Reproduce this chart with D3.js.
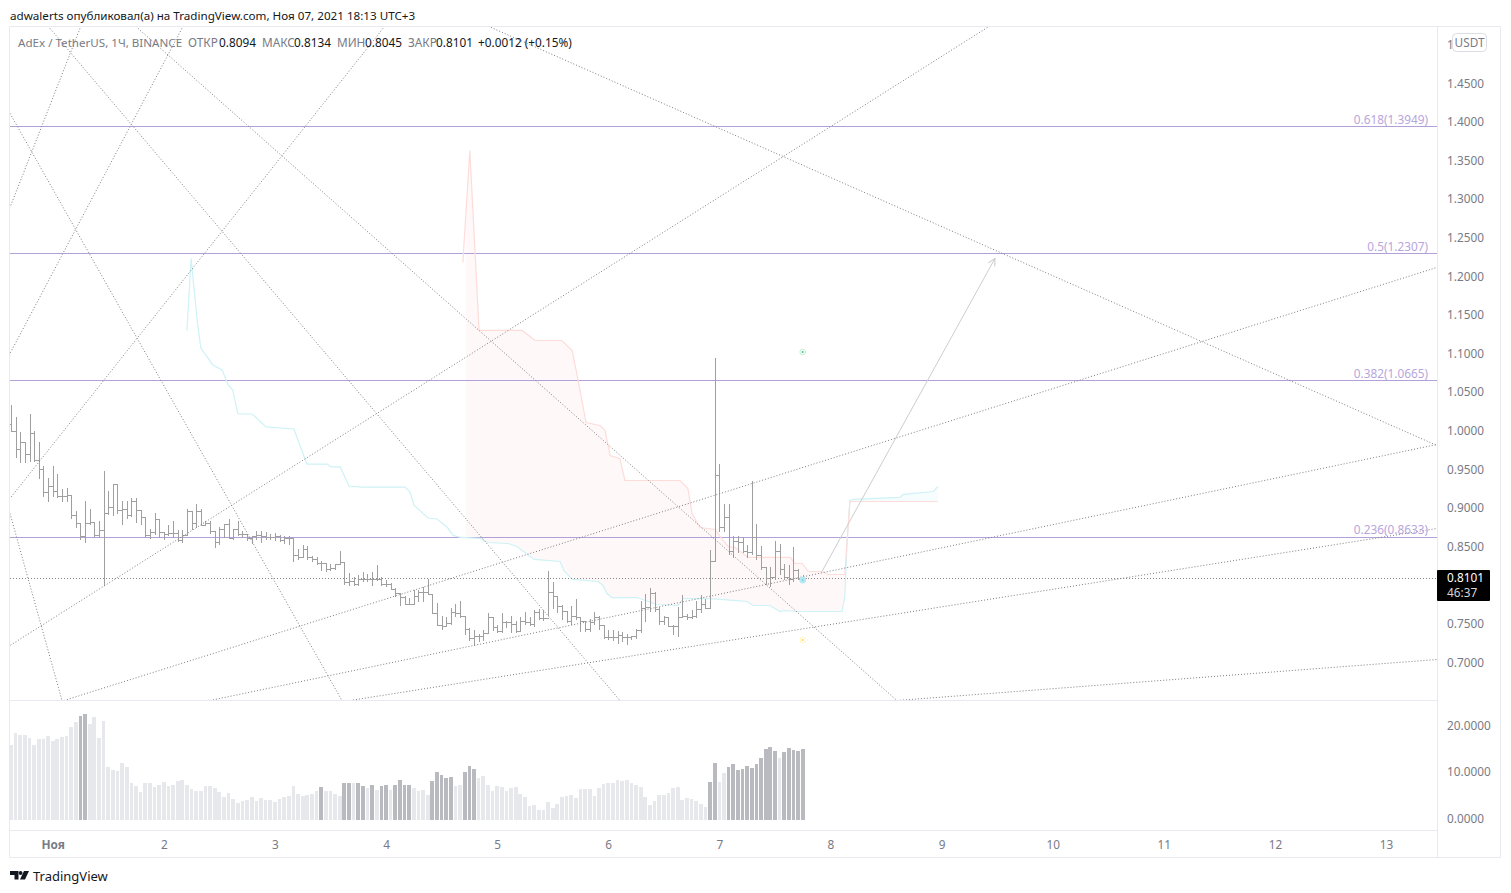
<!DOCTYPE html>
<html><head><meta charset="utf-8">
<script src="https://cdn.jsdelivr.net/npm/d3@7"></script>
<style>
html,body{margin:0;padding:0;background:#fff}
svg{display:block}
text{font-family:"Noto Sans",sans-serif}
</style></head><body><svg id="c" width="1511" height="893"></svg>
<script>
// ---- OHLC (hourly bars, index 0..171) ----
const highs=[1.0348,1.0192,.9998,.9860,1.0227,1.0011,.9868,.9557,.9398,.9557,
.9449,.9255,.9268,.9177,.8975,.8819,.9104,.8997,.8824,.8833,
.9493,.9234,.9320,.9320,.9104,.9096,.9139,.9139,.8984,.8897,
.8738,.8945,.8867,.8694,.8781,.8833,.8725,.8725,.8997,.8975,
.9061,.8997,.8833,.8833,.8707,.8759,.8802,.8867,.8738,.8833,
.8716,.8673,.8651,.8716,.8716,.8694,.8673,.8681,.8664,.8651,
.8651,.8617,.8479,.8522,.8509,.8392,.8371,.8327,.8293,.8284,
.8284,.8457,.8306,.8163,.8112,.8146,.8185,.8155,.8176,.8263,
.8112,.8069,.8034,.7974,.7905,.7874,.7840,.7948,.7939,.7982,
.8082,.7896,.7779,.7615,.7602,.7710,.7766,.7801,.7615,.7455,
.7421,.7377,.7421,.7654,.7602,.7486,.7650,.7550,.7611,.7542,
.7602,.7658,.7594,.7680,.7702,.7680,.8198,.8047,.7874,.7745,
.7658,.7732,.7831,.7594,.7550,.7572,.7658,.7615,.7486,.7421,
.7421,.7412,.7399,.7377,.7356,.7442,.7809,.7896,.7974,.7917,
.7723,.7615,.7602,.7498,.7723,.7882,.7636,.7680,.7809,.7887,
.7831,.8465,1.0952,.9571,.9053,.9053,.8651,.8651,.8630,.8522,
.9351,.8794,.8509,.8241,.8241,.8586,.8535,.8284,.8263,.8500,.8219,.8134];
const lows=[1.0011,.9674,.9601,.9601,.9622,.9622,.9393,.9169,.9095,.9169,
.9156,.9104,.9104,.8880,.8759,.8608,.8565,.8802,.8651,.8630,
.8004,.8932,.8923,.8941,.8794,.8880,.8910,.8824,.8794,.8630,
.8621,.8673,.8630,.8608,.8664,.8630,.8586,.8565,.8673,.8738,
.8759,.8781,.8781,.8681,.8500,.8543,.8630,.8621,.8608,.8664,
.8630,.8595,.8552,.8608,.8565,.8608,.8608,.8595,.8586,.8552,
.8543,.8327,.8349,.8371,.8349,.8327,.8276,.8207,.8198,.8207,
.8220,.8276,.8025,.8016,.8016,.8016,.8068,.8068,.8016,.8077,
.8004,.7991,.7961,.7874,.7745,.7758,.7758,.7758,.7801,.7809,
.7896,.7650,.7486,.7442,.7477,.7499,.7615,.7602,.7378,.7300,
.7239,.7291,.7300,.7386,.7421,.7399,.7399,.7464,.7399,.7399,
.7408,.7507,.7486,.7477,.7572,.7563,.7624,.7715,.7658,.7572,
.7529,.7507,.7572,.7412,.7412,.7412,.7507,.7442,.7326,.7313,
.7304,.7261,.7291,.7248,.7313,.7326,.7399,.7550,.7671,.7671,
.7507,.7507,.7477,.7377,.7356,.7593,.7572,.7585,.7602,.7658,
.7710,.7710,.8319,.8707,.8716,.8414,.8370,.8435,.8435,.8370,
.8414,.8349,.8219,.8025,.8003,.8090,.8155,.8090,.8025,.8060,.8090,.8045];
const closes=[1.0011,.9773,.9860,.9709,.9976,.9635,.9514,.9220,.9294,.9233,
.9160,.9169,.9177,.8919,.8819,.8651,.8811,.8824,.8660,.8729,
.8945,.9018,.9320,.8984,.8997,.8919,.9096,.8984,.8897,.8664,
.8694,.8867,.8694,.8673,.8690,.8690,.8595,.8664,.8966,.8811,
.8966,.8789,.8811,.8707,.8565,.8738,.8802,.8621,.8738,.8673,
.8673,.8617,.8643,.8660,.8647,.8630,.8630,.8651,.8595,.8617,
.8617,.8405,.8379,.8479,.8371,.8349,.8293,.8293,.8220,.8233,
.8276,.8306,.8047,.8068,.8025,.8090,.8090,.8090,.8090,.8090,
.8025,.8017,.7961,.7905,.7853,.7766,.7766,.7874,.7917,.7917,
.7896,.7650,.7494,.7477,.7516,.7658,.7650,.7615,.7442,.7326,
.7356,.7356,.7386,.7594,.7472,.7412,.7529,.7529,.7507,.7408,
.7538,.7529,.7507,.7658,.7585,.7585,.7917,.7874,.7732,.7671,
.7550,.7615,.7594,.7550,.7442,.7529,.7602,.7486,.7335,.7335,
.7343,.7369,.7335,.7335,.7347,.7421,.7714,.7723,.7904,.7701,
.7541,.7602,.7477,.7477,.7602,.7615,.7602,.7615,.7701,.7766,
.7714,.8327,.9437,.8759,.8897,.8457,.8586,.8565,.8457,.8435,
.8630,.8401,.8241,.8103,.8120,.8457,.8219,.8120,.8090,.8206,.8094,.8101];
const opens=[1.0097,1.0011,.9773,.9860,.9709,.9976,.9635,.9514,.9220,.9294,
.9233,.9160,.9169,.9177,.8919,.8819,.8651,.8811,.8824,.8660,
.8729,.8945,.9018,.9320,.8984,.8997,.8919,.9096,.8984,.8897,
.8664,.8694,.8867,.8694,.8673,.8690,.8690,.8595,.8664,.8966,
.8811,.8966,.8789,.8811,.8707,.8565,.8738,.8802,.8621,.8738,
.8673,.8673,.8617,.8643,.8660,.8647,.8630,.8630,.8651,.8595,
.8617,.8617,.8405,.8379,.8479,.8371,.8349,.8293,.8293,.8220,
.8233,.8276,.8306,.8047,.8068,.8025,.8090,.8090,.8090,.8090,
.8090,.8025,.8017,.7961,.7905,.7853,.7766,.7766,.7874,.7917,
.7917,.7896,.7650,.7494,.7477,.7516,.7658,.7650,.7615,.7442,
.7326,.7356,.7356,.7386,.7594,.7472,.7412,.7529,.7529,.7507,
.7408,.7538,.7529,.7507,.7658,.7585,.7585,.7917,.7874,.7732,
.7671,.7550,.7615,.7594,.7550,.7442,.7529,.7602,.7486,.7335,
.7335,.7343,.7369,.7335,.7335,.7347,.7421,.7714,.7723,.7904,
.7701,.7541,.7602,.7477,.7477,.7602,.7615,.7602,.7615,.7701,
.7766,.7714,.8327,.9437,.8759,.8897,.8457,.8586,.8565,.8457,
.8435,.8630,.8401,.8241,.8103,.8120,.8457,.8219,.8120,.8090,.8206,.8094];
// ---- Volume ----
const volumes=[16.2,18.7,18.3,18.3,17.7,16.2,17.5,17.5,18.1,17.1,
17.5,17.9,18.1,20.1,21.2,22.4,22.9,20.7,22.2,17.7,
21.4,11.4,10.8,10.6,12.3,11.4,8.0,7.3,6.0,8.0,
8.0,7.1,7.6,8.2,7.3,7.6,8.4,8.6,7.6,6.7,
6.3,6.3,7.3,7.3,6.9,6.0,5.0,5.8,4.5,3.7,
4.1,4.3,5.0,4.1,4.7,4.3,4.3,3.9,4.5,5.0,
5.2,7.3,5.6,5.2,5.4,5.6,6.3,7.1,6.3,6.3,
5.6,5.2,8.0,8.0,8.0,8.0,7.3,6.9,7.6,6.5,
7.3,7.6,6.5,7.6,8.6,7.6,7.6,6.9,6.3,6.5,
5.4,8.4,10.4,9.7,9.1,9.3,7.3,7.6,10.4,11.7,
11.0,9.1,9.5,7.6,6.3,7.3,7.1,6.3,6.9,7.1,
5.6,5.0,3.0,3.2,2.2,2.2,3.9,2.6,3.5,5.0,
5.2,5.4,4.7,6.7,6.7,6.7,5.2,6.9,7.8,8.0,
8.0,8.6,8.4,8.6,8.0,7.6,7.1,5.0,3.2,4.1,
5.4,5.4,5.8,6.9,7.1,4.3,4.7,4.5,4.1,3.5,
2.8,8.2,12.3,8.2,10.1,11.4,12.1,10.8,11.0,11.7,
11.2,12.1,13.4,15.3,15.8,14.9,13.4,14.7,15.5,15.1,14.9,15.3];
const darkVolumeBars=[15,16,67,72,73,75,76,78,80,81,83,84,85,86,91,92,93,94,95,98,99,100,
151,152,155,156,157,158,159,160,161,162,163,164,165,167,168,169,170,171];
// ---- Cloud lines: bar index and price ----
const blueTimes=[38.0,38.9,40.2,41.0,43.6,45.6,46.9,47.9,49.0,52.1,55.1,61.1,63.9,68.3,69.1,71.1,73.0,75.8,85.1,86.2,87.0,90.1,92.0,94.2,95.5,97.2,101.3,103.0,107.4,109.3,111.0,113.0,118.6,119.4,121.2,126.8,127.9,128.7,129.8,135.2,139.5,144.1,145.2,151.0,156.0,159.0,160.3,163.9,166.1,167.2,169.8,179.5,180.1,180.6,181.2,181.9,192.0,192.7,199.2,200.2];
const blueValues=[1.1307,1.2240,1.1442,1.1080,1.0860,1.0795,1.0601,1.0536,1.0225,1.0225,1.0057,1.0031,.9577,.9577,.9539,.9539,.9292,.9279,.9279,.9215,.9046,.8878,.8865,.8761,.8652,.8626,.8613,.8561,.8548,.8509,.8431,.8341,.8315,.8198,.8082,.8056,.8004,.7900,.7848,.7848,.7758,.7745,.7835,.7835,.7810,.7797,.7745,.7745,.7667,.7680,.7667,.7667,.7861,.8587,.9105,.9118,.9144,.9183,.9221,.9286];
const redTimes=[97.6,99.1,101.1,110.4,113.2,119.0,121.2,122.5,124.2,127.2,128.3,129.4,131.5,132.6,144.5,146.2,147.1,148.8,152.1,153.8,154.9,156.4,159.2,168.3,169.3,170.9,172.2,175.2,176.5,180.1,180.6,181.2,200.2];
const redValues=[1.2188,1.3638,1.1307,1.1307,1.1177,1.1177,1.1048,1.0659,1.0115,1.0076,1.0012,.9688,.9649,.9364,.9364,.9260,.8936,.8755,.8729,.8587,.8509,.8496,.8367,.8367,.8289,.8289,.8185,.8185,.8146,.8146,.8587,.9092,.9092];
const cloudStart=98.27, cloudCross=180.6, cloudStartRed=1.2836, cloudStartBlue=.8623;
// ---- Fibonacci levels ----
const fibPrices=[1.3949,1.2307,1.0665,.8633];
const fibLabels=["0.618(1.3949)","0.5(1.2307)","0.382(1.0665)","0.236(0.8633)"];
const lastPrice=.8101;
// ---- Drawn lines: [bar0, price0, bar1, price1] ----
const fanTimes0=[14.90,36.93,80.35,210.91,103.67,8.42,27.43,-.216,-.216,11.45,42.98,73.22,191.36];
const fanPrices0=[1.5219,1.5219,1.5219,1.5232,1.5232,1.5219,1.5219,1.4118,.8937,.6514,.6514,.6514,.6514];
const fanTimes1=[-.216,-.216,-.216,-.216,307.99,131.53,191.36,71.49,11.02,307.99,307.99,307.99,307.99];
const fanPrices1=[1.2900,1.1009,.9131,.7227,.9817,.6514,.6514,.6514,.6514,1.2123,.9830,.8742,.7045];
const arrowTimes=[175.16,212.53], arrowPrices=[.8185,1.2240];
const markerTime=171, markerPrices=[1.1028,.8075,.7298];
// ---- Ticks ----
const priceTicks=[1.5,1.45,1.4,1.35,1.3,1.25,1.2,1.15,1.1,1.05,1,.95,.9,.85,.75,.7];
const volumeTicks=[0,10,20];
const dayTicks=[9,33,57,81,105,129,153,177,201,225,249,273,297];
const dayLabels=["Ноя","2","3","4","5","6","7","8","9","10","11","12","13"];

const svg=d3.select("#c");
const L=10,R=1437,T=27,B=700,FRAME_R=1500;
const x=d3.scaleLinear().domain([0,171]).range([11,802.7]);
const y=d3.scaleLinear().domain([.7,1.45]).range([663,663-.75*772.1]);
const yv=d3.scaleLinear().domain([0,20]).range([820,727.4]);
const GRID="#e9eaef",TXT="#787b86",BAR="#9f9f9f",DOT="#7d7d7d";

svg.append("defs").append("clipPath").attr("id","plot").append("rect")
  .attr("x",L).attr("y",T).attr("width",R-L).attr("height",B-T);
const defs=svg.select("defs");
defs.append("marker").attr("id","ah").attr("viewBox","-8 -5 10 10").attr("refX",0).attr("refY",0)
  .attr("markerWidth",10).attr("markerHeight",10).attr("markerUnits","userSpaceOnUse").attr("orient","auto")
  .append("path").attr("d","M-7,-3.6L0,0L-7,3.6").attr("fill","none").attr("stroke","#c9c9c9").attr("stroke-width",1);

// frame
const frame=svg.append("g").attr("stroke",GRID).attr("stroke-width",1);
[[L-.5,26.5,FRAME_R+.5,26.5],[L-.5,26.5,L-.5,857.5],[FRAME_R+.5,26.5,FRAME_R+.5,857.5],[L-.5,857.5,FRAME_R+.5,857.5],
 [R+.5,26.5,R+.5,857.5],[L,700.5,R,700.5],[L,830.5,R,830.5]].forEach(s=>
  frame.append("line").attr("x1",s[0]).attr("y1",s[1]).attr("x2",s[2]).attr("y2",s[3]));

const plot=svg.append("g").attr("clip-path","url(#plot)");
const lineGen=d3.line().x(d=>x(d[0])).y(d=>y(d[1]));
const blue=d3.zip(blueTimes,blueValues), red=d3.zip(redTimes,redValues);

// cloud fills
const upper=[[cloudStart,cloudStartRed],...red.filter(d=>d[0]>cloudStart&&d[0]<=cloudCross)];
const lower=[[cloudStart,cloudStartBlue],...blue.filter(d=>d[0]>cloudStart&&d[0]<=cloudCross)];
plot.append("path").attr("d",lineGen([...upper,...lower.reverse()])+"Z").attr("fill","#fff8f8");
const upperB=blue.filter(d=>d[0]>=181.2), lowerB=red.filter(d=>d[0]>=181.2);
plot.append("path").attr("d",lineGen([...upperB,...lowerB.reverse()])+"Z").attr("fill","#f7fdfe");

// fib lines
plot.selectAll("line.fib").data(fibPrices).join("line").attr("class","fib")
  .attr("x1",L).attr("x2",R).attr("y1",d=>Math.round(y(d))+.5).attr("y2",d=>Math.round(y(d))+.5)
  .attr("stroke","#b3a0d8").attr("stroke-width",1);

// cloud lines
plot.append("path").attr("d",lineGen(blue)).attr("fill","none").attr("stroke","#cef2f6").attr("stroke-width",1.2);
plot.append("path").attr("d",lineGen(red)).attr("fill","none").attr("stroke","#fddcda").attr("stroke-width",1.2);

// last price dotted
plot.append("line").attr("x1",L).attr("x2",R).attr("y1",Math.round(y(lastPrice))+.5).attr("y2",Math.round(y(lastPrice))+.5)
  .attr("stroke","#888").attr("stroke-dasharray","1 2");

// OHLC bars
const bars=plot.append("g").attr("stroke",BAR).attr("stroke-width",1).attr("shape-rendering","crispEdges");
const idx=d3.range(highs.length);
const px=i=>Math.round(x(i))+.5;
bars.selectAll("path").data(idx).join("path")
  .attr("fill","none")
  .attr("d",i=>{
    const X=px(i);
    return `M${X},${Math.round(y(highs[i]))}V${Math.round(y(lows[i]))+1}`+
      `M${X-2},${Math.round(y(opens[i]))+.5}H${X}`+
      `M${X},${Math.round(y(closes[i]))+.5}H${X+3}`;
  });

// fan lines
plot.selectAll("line.fan").data(d3.range(fanTimes0.length)).join("line").attr("class","fan")
  .attr("x1",i=>x(fanTimes0[i])).attr("y1",i=>y(fanPrices0[i]))
  .attr("x2",i=>x(fanTimes1[i])).attr("y2",i=>y(fanPrices1[i]))
  .attr("stroke",DOT).attr("stroke-width",1).attr("stroke-dasharray","1 2");

// arrow
plot.append("line").attr("x1",x(arrowTimes[0])).attr("y1",y(arrowPrices[0]))
  .attr("x2",x(arrowTimes[1])).attr("y2",y(arrowPrices[1]))
  .attr("stroke","#cdcdcd").attr("stroke-width",1).attr("marker-end","url(#ah)");

// markers
const markStyles=[["#c4efd2","#3cc089"],["#b5e8f2","#b5e8f2"],["#fff6c4","#ffd83d"]];
markerPrices.forEach((p,k)=>{
  const g=plot.append("g").attr("transform",`translate(${x(markerTime)},${y(p)})`);
  if(k===1){g.append("circle").attr("r",3.4).attr("fill",markStyles[k][0]);
    g.append("circle").attr("r",.8).attr("fill","#6fb9cc");}
  else{g.append("circle").attr("r",2.8).attr("fill","#fff").attr("stroke",markStyles[k][0]).attr("stroke-width",1);
    g.append("circle").attr("r",1).attr("fill",markStyles[k][1]);}
});

// fib labels
svg.append("g").selectAll("text").data(fibPrices).join("text")
  .attr("x",1428).attr("y",d=>y(d)-2.5).attr("text-anchor","end")
  .attr("fill","#b7a6dc").attr("font-size",11.8).text((d,i)=>fibLabels[i]);

// volume
const darkSet=new Set(darkVolumeBars);
svg.append("g").attr("shape-rendering","crispEdges").selectAll("rect").data(idx).join("rect")
  .attr("x",i=>x(i)-1.85).attr("width",3.7)
  .attr("y",i=>yv(volumes[i])).attr("height",i=>yv(0)-yv(volumes[i]))
  .attr("fill",i=>darkSet.has(i)?"#b9babf":"#e7e8eb");

// axes
function styleAxis(g){g.select(".domain").remove();g.selectAll(".tick line").remove();
  g.selectAll("text").attr("fill",TXT).attr("font-size",11.8).style("font-family",'"Noto Sans",sans-serif');}
svg.append("g").attr("transform",`translate(${R},-0.7)`)
  .call(d3.axisRight(y).tickValues(priceTicks).tickSize(0).tickPadding(10).tickFormat(d3.format(".4f"))).call(styleAxis);
svg.append("g").attr("transform",`translate(${R},-1.5)`)
  .call(d3.axisRight(yv).tickValues(volumeTicks).tickSize(0).tickPadding(10).tickFormat(d3.format(".4f"))).call(styleAxis);
const timeAxis=svg.append("g").attr("transform","translate(0,841)")
  .call(d3.axisBottom(x).tickValues(dayTicks).tickSize(0).tickPadding(0).tickFormat((d,i)=>dayLabels[i])).call(styleAxis);
timeAxis.selectAll("text").attr("font-weight",(d,i)=>i===0?700:400);

// USDT box
svg.append("rect").attr("x",1452.5).attr("y",33.5).attr("width",34).attr("height",18).attr("rx",4)
  .attr("fill","#fff").attr("stroke","#dcdde3");
svg.append("text").attr("x",1469.5).attr("y",46.5).attr("text-anchor","middle").attr("fill",TXT).attr("font-size",11.8).text("USDT");

// last price label
svg.append("rect").attr("x",R).attr("y",570).attr("width",53).attr("height",31).attr("rx",1).attr("fill","#000");
svg.append("text").attr("x",1447).attr("y",582).attr("fill","#fff").attr("font-size",11.8).text(d3.format(".4f")(lastPrice));
svg.append("text").attr("x",1447).attr("y",596.5).attr("fill","#d6d6d6").attr("font-size",11.8).text("46:37");

// header
svg.append("text").attr("x",10).attr("y",19.5).attr("fill","#131722").attr("font-size",11.65)
  .text("adwalerts опубликовал(а) на TradingView.com, Ноя 07, 2021 18:13 UTC+3");
const legendTexts=[["AdEx / TetherUS, 1Ч, BINANCE",18,TXT,11.6],["ОТКР",188,TXT,11.8],["0.8094",219,"#131722",11.8],["МАКС",262,TXT,11.8],["0.8134",294,"#131722",11.8],
 ["МИН",337,TXT,11.8],["0.8045",365,"#131722",11.8],["ЗАКР",408,TXT,11.8],["0.8101",436,"#131722",11.8],["+0.0012 (+0.15%)",478,"#131722",11.8]];
svg.append("g").selectAll("text").data(legendTexts).join("text")
  .attr("x",d=>d[1]).attr("y",46.5).attr("fill",d=>d[2]).attr("font-size",d=>d[3]).text(d=>d[0]);

// footer
const logo=svg.append("g").attr("fill","#131722");
logo.append("path").attr("d","M10,871h8.5v8.5h-4v-4.5h-4.5z");
logo.append("circle").attr("cx",20.6).attr("cy",873).attr("r",1.9);
logo.append("path").attr("d","M24,871h5l-4,8.5h-5z");
svg.append("text").attr("x",33).attr("y",881).attr("fill","#131722").attr("font-size",13).text("TradingView");
</script></body></html>
